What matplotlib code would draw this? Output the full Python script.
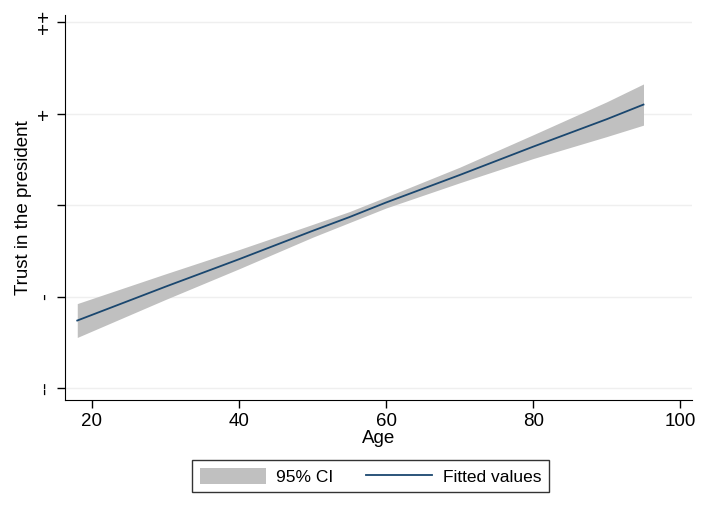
import numpy as np
import matplotlib.pyplot as plt
from matplotlib.patches import Patch
from matplotlib.lines import Line2D

plt.rcParams['font.family'] = ['Liberation Sans', 'DejaVu Sans']

# Values
age = [18, 30, 40, 50, 55, 60, 70, 80, 90, 95]
fitted = [1.74, 2.11, 2.41, 2.72, 2.87, 3.03, 3.33, 3.64, 3.94, 4.10]
ci_low = [1.555, 1.97, 2.305, 2.65, 2.81, 2.97, 3.245, 3.51, 3.75, 3.875]
ci_high = [1.925, 2.25, 2.515, 2.79, 2.93, 3.09, 3.415, 3.77, 4.13, 4.325]

y_ticks = [1, 2, 3, 4, 5]
y_labels = ['--', '-', '', '+', '++']
x_ticks = [20, 40, 60, 80, 100]

fig = plt.figure(figsize=(7.04, 5.13), dpi=100)
ax = fig.add_axes([0.092, 0.22, 0.891, 0.751])

ax.fill_between(age, ci_low, ci_high, color='#c0c0c0', linewidth=0, zorder=2)
ax.plot(age, fitted, color='#1a476f', linewidth=1.3, zorder=3)

ax.set_xlim(16.3, 101.6)
ax.set_ylim(0.87, 5.08)
ax.set_xticks(x_ticks)
ax.set_yticks(y_ticks)
ax.set_yticklabels(y_labels, rotation=90, va='center')
ax.tick_params(labelsize=13.5, length=6, width=1)
ax.tick_params(axis='y', pad=1.5, labelsize=15)
ax.grid(axis='y', color='#efefef', linewidth=1, zorder=0)
for s in ['top', 'right']:
    ax.spines[s].set_visible(False)

ax.set_xlabel('Age', fontsize=13.5, labelpad=0)
ax.set_ylabel('Trust in the president', fontsize=13.5)
ax.yaxis.set_label_coords(-0.053, 0.5)

handles = [Patch(facecolor='#c0c0c0', edgecolor='none'),
           Line2D([0], [0], color='#1a476f', linewidth=1.3)]
leg = fig.legend(handles, ['95% CI', 'Fitted values'], loc='center',
                 bbox_to_anchor=(0.526, 0.072), ncol=2, fontsize=12.5,
                 frameon=True, fancybox=False, handlelength=3.8,
                 handleheight=1.05, handletextpad=0.6, columnspacing=1.9,
                 borderpad=0.45, borderaxespad=0)
leg.get_frame().set_edgecolor('black')
leg.get_frame().set_linewidth(1)

fig.savefig('out.png', dpi=100)
